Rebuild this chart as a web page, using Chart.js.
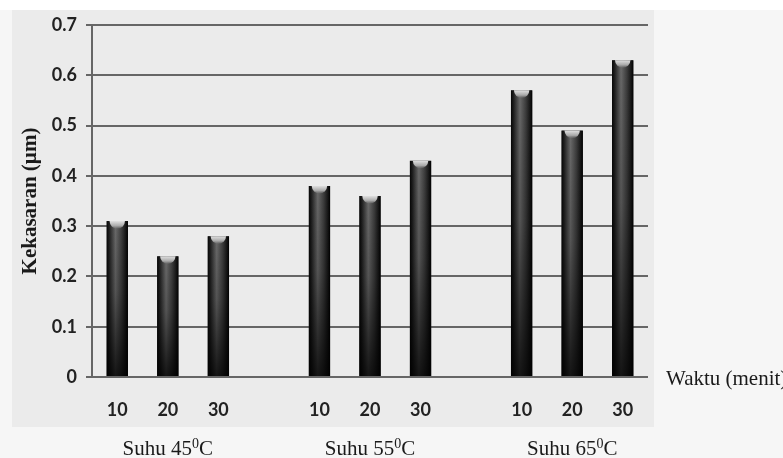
<!DOCTYPE html>
<html>
<head>
<meta charset="utf-8">
<script src="https://cdn.jsdelivr.net/npm/chart.js@4.4.1/dist/chart.umd.min.js"></script>
<style>
  html, body { margin: 0; padding: 0; background: #f6f6f6; }
  #wrap { width: 783px; height: 458px; }
</style>
</head>
<body>
<div id="wrap"><canvas id="chart"></canvas></div>
<script>
// kekasaran per waktu (menit), three temperature groups with an empty slot between
const waktu = ['10', '20', '30', '', '10', '20', '30', '', '10', '20', '30'];
const kekasaran = [0.31, 0.24, 0.28, null, 0.38, 0.36, 0.43, null, 0.57, 0.49, 0.63];
const suhu = ['45', '55', '65'];
const suhuIndex = [1, 5, 9];
const yMin = 0, yMax = 0.7, yStep = 0.1;

const serif = "'Liberation Serif', 'DejaVu Serif', serif";
const sans = "Lato, 'Liberation Sans', sans-serif";

// panel behind the plot
const backdrop = {
  id: 'backdrop',
  beforeDraw(chart) {
    const c = chart.ctx, a = chart.chartArea;
    c.save();
    c.fillStyle = '#f6f6f6';
    c.fillRect(0, 0, chart.width, chart.height);
    c.fillStyle = '#ffffff';
    c.fillRect(0, 0, chart.width, a.top - 15);
    c.fillStyle = '#ebebeb';
    c.fillRect(a.left - 80, a.top - 15, a.right - a.left + 86, a.bottom - a.top + 65);
    c.restore();
  }
};

// cylinder look for each bar
const cylinders = {
  id: 'cylinders',
  afterDatasetsDraw(chart) {
    const c = chart.ctx;
    const meta = chart.getDatasetMeta(0);
    meta.data.forEach((bar, i) => {
      if (kekasaran[i] == null) return;
      const p = bar.getProps(['x', 'y', 'base', 'width'], true);
      const l = p.x - p.width / 2, r = p.x + p.width / 2;
      const t = p.y, b = p.base, w = p.width;
      c.save();
      c.beginPath();
      c.rect(l, t, w, b - t);
      c.clip();
      const h = c.createLinearGradient(l, 0, r, 0);
      h.addColorStop(0, '#050505');
      h.addColorStop(0.12, '#1e1e1e');
      h.addColorStop(0.42, '#6a6a6a');
      h.addColorStop(0.7, '#3c3c3c');
      h.addColorStop(0.9, '#151515');
      h.addColorStop(1, '#000000');
      c.fillStyle = h;
      c.fillRect(l, t, w, b - t);
      const v = c.createLinearGradient(0, t, 0, b);
      v.addColorStop(0, 'rgba(0,0,0,0)');
      v.addColorStop(0.45, 'rgba(0,0,0,0.2)');
      v.addColorStop(1, 'rgba(0,0,0,0.8)');
      c.fillStyle = v;
      c.fillRect(l, t, w, b - t);
      const cap = c.createLinearGradient(0, t, 0, t + 8);
      cap.addColorStop(0, '#e0e0e0');
      cap.addColorStop(0.6, '#a8a8a8');
      cap.addColorStop(1, 'rgba(110,110,110,0.3)');
      c.fillStyle = cap;
      c.beginPath();
      c.ellipse(p.x, t, w / 2 - 3, 7.5, 0, 0, Math.PI * 2);
      c.fill();
      c.restore();
    });
  }
};

// group labels with superscript and the axis note on the right
const labels = {
  id: 'labels',
  afterDraw(chart) {
    const c = chart.ctx, a = chart.chartArea;
    const xs = chart.scales.x;
    c.save();
    c.fillStyle = '#1a1a1a';
    c.textBaseline = 'alphabetic';
    suhu.forEach((s, k) => {
      const big = '21px ' + serif, small = '14px ' + serif;
      c.font = big;
      const p1 = 'Suhu ' + s, p3 = 'C';
      const w1 = c.measureText(p1).width, w3 = c.measureText(p3).width;
      c.font = small;
      const w2 = c.measureText('0').width;
      const cx = xs.getPixelForValue(suhuIndex[k]);
      let x = cx - (w1 + w2 + w3) / 2;
      const y = a.bottom + 78;
      c.font = big;
      c.fillText(p1, x, y);
      c.font = small;
      c.fillText('0', x + w1, y - 7);
      c.font = big;
      c.fillText(p3, x + w1 + w2, y);
    });
    c.font = '21px ' + serif;
    c.fillText('Waktu (menit)', a.right + 18, a.bottom + 8);
    c.restore();
  }
};

const ctx = document.getElementById('chart').getContext('2d');
const myChart = new Chart(ctx, {
  type: 'bar',
  data: {
    labels: waktu,
    datasets: [{
      label: 'Kekasaran',
      data: kekasaran,
      backgroundColor: '#222222',
      borderWidth: 0,
      barPercentage: 0.9,
      categoryPercentage: 0.47
    }]
  },
  options: {
    responsive: true,
    maintainAspectRatio: false,
    animation: false,
    layout: { padding: { left: 0, right: 135, top: 25, bottom: 0 } },
    plugins: {
      legend: { display: false },
      tooltip: { enabled: false }
    },
    scales: {
      x: {
        grid: { display: false },
        border: { display: false },
        ticks: {
          autoSkip: false,
          maxRotation: 0,
          padding: 14,
          color: '#222',
          font: { family: sans, size: 18, weight: 'bold' }
        },
        afterFit(scale) { scale.height = 81; }
      },
      y: {
        min: yMin,
        max: yMax,
        ticks: {
          stepSize: yStep,
          padding: 9,
          color: '#222',
          font: { family: sans, size: 18, weight: 'bold' },
          callback: v => v === 0 ? '0' : v.toFixed(1)
        },
        grid: { color: '#666666', lineWidth: 2, tickLength: 6 },
        border: { color: '#666666', width: 2 },
        title: {
          display: true,
          text: 'Kekasaran (µm)',
          color: '#1a1a1a',
          font: { family: serif, size: 21, weight: 'bold' },
          padding: { top: 18, bottom: 0 }
        },
        afterFit(scale) { scale.width = 92; }
      }
    }
  },
  plugins: [backdrop, cylinders, labels]
});
</script>
</body>
</html>
